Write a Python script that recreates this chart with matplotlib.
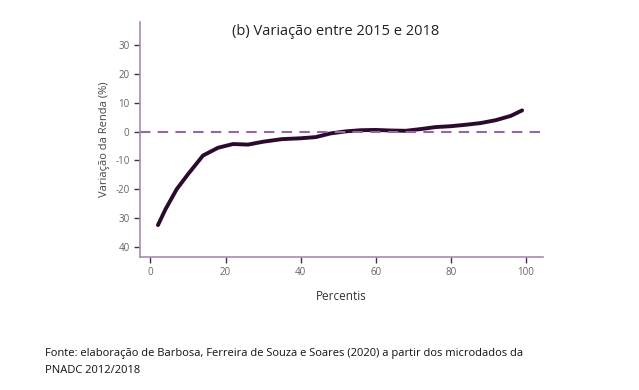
import matplotlib
matplotlib.use('Agg')
import matplotlib.pyplot as plt

# dados
percentis = [2, 4, 7, 10, 14, 18, 22, 26, 30, 35, 40, 44, 48, 52, 56, 60, 64, 68, 72, 76, 80, 84, 88, 92, 96, 99]
variacao = [-32.5, -27.0, -20.0, -14.8, -8.3, -5.6, -4.3, -4.5, -3.5, -2.6, -2.3, -1.9, -0.6, 0.1, 0.5, 0.6, 0.4, 0.3, 0.9, 1.6, 1.9, 2.4, 3.0, 4.0, 5.5, 7.4]

yticks = [30, 20, 10, 0, -10, -20, -30, -40]
ytick_labels = ["30", "20", "10", "0", "-10", "-20", "30", "40"]
xticks = [0, 20, 40, 60, 80, 100]

plt.rcParams['font.family'] = ['Open Sans', 'DejaVu Sans']
spine_color = '#a88bb3'
line_color = '#2c0a2e'

fig = plt.figure(figsize=(6.39, 3.90), dpi=100)
ax = fig.add_axes([0.219, 0.341, 0.631, 0.603])

ax.plot(percentis, variacao, color=line_color, lw=2.8, solid_capstyle='round')
ax.axhline(0, color='#9468a0', lw=1.5, ls=(0, (5, 3.5)))

ax.set_xlim(-2.8, 104.6)
ax.set_ylim(-43.6, 38.2)
ax.set_yticks(yticks)
ax.set_yticklabels(ytick_labels)
ax.set_xticks(xticks)

for s in ['top', 'right']:
    ax.spines[s].set_visible(False)
for s in ['left', 'bottom']:
    ax.spines[s].set_color(spine_color)
    ax.spines[s].set_linewidth(1.2)
ax.tick_params(axis='both', colors='#4a2a50', labelcolor='#666666', labelsize=7, length=4, width=1)

ax.set_xlabel('Percentis', fontsize=8.5, color='#333333', labelpad=8)
ax.set_ylabel('Variação da Renda (%)', fontsize=8, color='#444444', labelpad=4)

fig.text(0.525, 0.92, '(b) Variação entre 2015 e 2018', ha='center', va='center', fontsize=10.5, color='#222222')
fig.text(0.07, 0.072, 'Fonte: elaboração de Barbosa, Ferreira de Souza e Soares (2020) a partir dos microdados da\nPNADC 2012/2018',
         ha='left', va='center', fontsize=8.0, color='#111111', linespacing=1.8)

plt.savefig('out.png', dpi=100)
plt.close()
